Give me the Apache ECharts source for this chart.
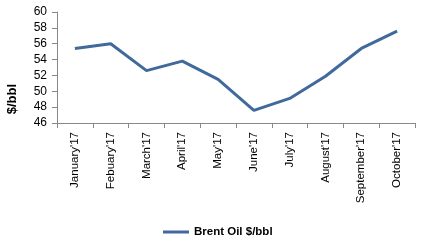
<!DOCTYPE html>
<html><head><meta charset="utf-8">
<script src="https://cdn.jsdelivr.net/npm/echarts@6/dist/echarts.min.js"></script>
<style>html,body{margin:0;padding:0;background:#fff}#c{width:422px;height:246px}</style>
</head><body><div id="c"></div>
<script>
var categories = ["January'17","Febuary'17","March'17","April'17","May'17","June'17","July'17","August'17","September'17","October'17"];
var brentValues = [55.4, 56.0, 52.6, 53.8, 51.5, 47.6, 49.1, 51.9, 55.4, 57.6];
var seriesName = "Brent Oil $/bbl";
var yAxisTitle = "$/bbl";

var chart = echarts.init(document.getElementById('c'), null, {renderer:'canvas'});
var font = 'Liberation Sans, Arial, sans-serif';
chart.setOption({
  animation:false,
  grid:{left:57, right:7, top:12, bottom:123},
  legend:{
    data:[seriesName], left:158, top:221, icon:'rect', itemWidth:26, itemHeight:3, itemGap:4,
    textStyle:{fontFamily:font, fontSize:11.5, fontWeight:'bold', color:'#000'}
  },
  graphic:[{type:'text', left:6, top:84, rotation:Math.PI/2,
    style:{text:yAxisTitle, fontFamily:font, fontSize:13, fontWeight:'bold', fill:'#000'}}],
  xAxis:{
    type:'category', data:categories, boundaryGap:true,
    axisLine:{lineStyle:{color:'#888'}},
    axisTick:{show:true, length:5, lineStyle:{color:'#888'}},
    axisLabel:{rotate:90, interval:0, fontFamily:font, fontSize:11.5, color:'#000', margin:9}
  },
  yAxis:{
    type:'value', min:46, max:60, interval:2,
    axisLine:{show:true, lineStyle:{color:'#888'}},
    axisTick:{show:true, length:5, lineStyle:{color:'#888'}},
    splitLine:{show:false},
    axisLabel:{fontFamily:font, fontSize:12, color:'#000', margin:10}
  },
  series:[{
    name:seriesName, type:'line', data:brentValues, showSymbol:false, symbol:'none',
    lineStyle:{color:'#41699c', width:3}, itemStyle:{color:'#41699c'}
  }]
});
</script></body></html>
